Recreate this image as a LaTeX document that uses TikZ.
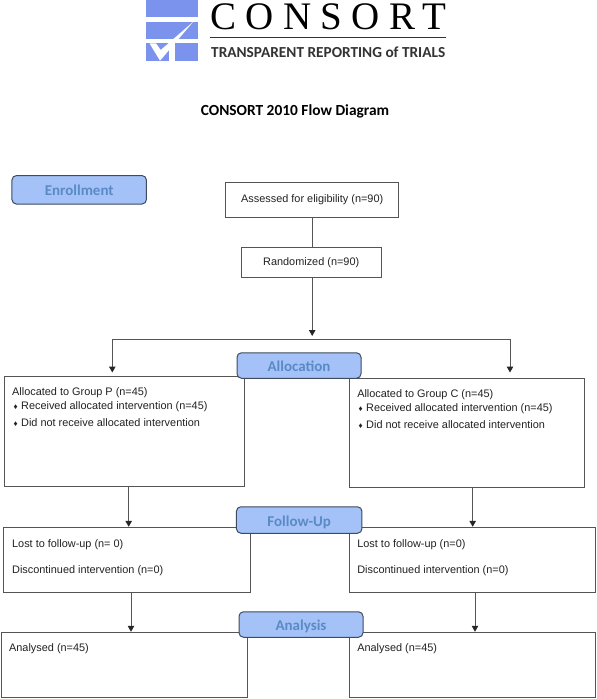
\documentclass[tikz,border=0pt]{standalone}
\usepackage{fontspec}
\setmainfont{Liberation Sans}
\newfontfamily\logofont[LetterSpace=24]{Liberation Serif}
\newfontfamily\headfont{Carlito}
\usepackage{xcolor}
\usetikzlibrary{arrows.meta,positioning}
\definecolor{logoblue}{HTML}{7C93EE}
\definecolor{stagefill}{HTML}{A4C2F8}
\definecolor{stagetext}{HTML}{5A8AC6}
\definecolor{stageline}{HTML}{3E4A5E}
\definecolor{boxline}{HTML}{555555}
\definecolor{bodytext}{HTML}{222222}
\newcommand{\itemmark}{\hspace*{1.3pt}{\fontsize{8}{8}\selectfont ♦}\hspace{3.6pt}}
\tikzset{
  flowbox/.style={draw=boxline, line width=1pt, fill=white, inner sep=0pt, text=bodytext, font=\fontsize{10.9}{12.5}\selectfont},
  boxtext/.style={anchor=north west, inner sep=0pt, align=left, text=bodytext, font=\fontsize{10.9}{12.5}\selectfont},
  stage/.style={draw=stageline, line width=1pt, fill=stagefill, rounded corners=4.5pt, inner sep=0pt, text depth=0pt, text height=12pt, text=stagetext, font=\headfont\bfseries\fontsize{15}{17}\selectfont},
  plainline/.style={draw=boxline, line width=1pt},
  flowarrow/.style={plainline, -{Triangle[length=6pt,width=6.5pt,color=black!85,fill=black!85]}, shorten >=0.5pt},
  logopart/.style={fill=logoblue, draw=none},
}
\begin{document}
\begin{tikzpicture}[x=1pt,y=-1pt]
  \useasboundingbox (0,0) rectangle (597,699);
  % logo
  \fill[logopart] (146,0) rectangle (198,17.3);
  \fill[logopart] (146,22) rectangle (198,39.3);
  \fill[logopart] (146,43.3) rectangle (169,61);
  \fill[logopart] (175,43.3) rectangle (198,61);
  \fill[white] (149.5,43.3) -- (156,43.3) -- (160.7,50) -- (193.3,21.7) -- (160,60.7) -- cycle;
  \node[anchor=west, inner sep=0pt] (logoname) at (210,16.5) {\logofont\fontsize{39}{39}\selectfont CONSORT};
  \node[anchor=west, inner sep=0pt, text=black!80, font=\headfont\bfseries\fontsize{15.3}{17}\selectfont] (logotag) at (211,52) {TRANSPARENT REPORTING of TRIALS};
  \coordinate (ruleleft) at (210,37.3);
  \coordinate (ruleright) at (446,37.3);
  \draw[black!80, line width=0.9pt] (ruleleft) -- (ruleright);
  \node[inner sep=0pt, font=\headfont\bfseries\fontsize{15.4}{17}\selectfont] (title) at (295,111.5) {CONSORT 2010 Flow Diagram};

  % boxes
  \node[flowbox, minimum width=173.5pt, minimum height=34.6pt] (assessed) at (312.2,200) {Assessed for eligibility (n=90)};
  \node[flowbox, minimum width=139.7pt, minimum height=30pt] (randomized) at (311.2,262.7) {Randomized (n=90)};
  \node[flowbox, minimum width=240pt, minimum height=110pt] (allocp) at (124,431) {};
  \node[flowbox, minimum width=234.5pt, minimum height=109pt] (allocc) at (466.8,432.5) {};
  \node[flowbox, minimum width=246.5pt, minimum height=65pt] (lostp) at (127.2,560.3) {};
  \node[flowbox, minimum width=246.3pt, minimum height=65pt] (lostc) at (472.8,560.3) {};
  \node[flowbox, minimum width=246.5pt, minimum height=64.5pt] (donep) at (124.7,665) {};
  \node[flowbox, minimum width=246.3pt, minimum height=64.5pt] (donec) at (472.8,665) {};

  % box texts
  \node[boxtext] (allocptext) at ([xshift=8.5pt,yshift=-12pt]allocp.north west) {Allocated to Group P (n=45)\\[1.5pt]\itemmark Received allocated intervention (n=45)\\[4.6pt]\itemmark Did not receive allocated intervention};
  \node[boxtext] (allocctext) at ([xshift=8pt,yshift=-12pt]allocc.north west) {Allocated to Group C (n=45)\\[1.5pt]\itemmark Received allocated intervention (n=45)\\[4.6pt]\itemmark Did not receive allocated intervention};
  \node[boxtext] (lostpone) at ([xshift=8.5pt,yshift=-12.5pt]lostp.north west) {Lost to follow-up (n= 0)};
  \node[boxtext] (lostptwo) at ([xshift=8.5pt,yshift=-38.5pt]lostp.north west) {Discontinued intervention (n=0)};
  \node[boxtext] (lostcone) at ([xshift=8pt,yshift=-12.5pt]lostc.north west) {Lost to follow-up (n=0)};
  \node[boxtext] (lostctwo) at ([xshift=8pt,yshift=-38.5pt]lostc.north west) {Discontinued intervention (n=0)};
  \node[boxtext] (doneptext) at ([xshift=8pt,yshift=-11.5pt]donep.north west) {Analysed (n=45)};
  \node[boxtext] (donectext) at ([xshift=8pt,yshift=-11.5pt]donec.north west) {Analysed (n=45)};

  % connectors
  \coordinate (branch) at (312.2,339);
  \coordinate (branchp) at (112.3,339);
  \coordinate (branchc) at (510,339);
  \draw[plainline] (assessed.south) -- ([xshift=1pt]randomized.north);
  \draw[flowarrow, shorten >=3pt] ([xshift=1pt]randomized.south) -- (branch);
  \draw[plainline] (branchp) -- (branchc);
  \draw[flowarrow, shorten >=3pt] (branchp) -- (branchp |- allocp.north);
  \draw[flowarrow, shorten >=5pt] (branchc) -- (branchc |- allocc.north);
  \draw[flowarrow] ([xshift=4.7pt]allocp.south) -- ([xshift=1.5pt]lostp.north);
  \draw[flowarrow] ([xshift=5.9pt]allocc.south) -- ([xshift=-0.1pt]lostc.north);
  \draw[flowarrow] ([xshift=3.8pt]lostp.south) -- ([xshift=6.3pt]donep.north);
  \draw[flowarrow] ([xshift=2.2pt]lostc.south) -- ([xshift=2.2pt]donec.north);

  % stage labels
  \node[stage, minimum width=134.5pt, minimum height=28.5pt] (enrollment) at (79.2,189.8) {Enrollment};
  \node[stage, minimum width=124pt, minimum height=25.5pt] (allocation) at (299,365.5) {Allocation};
  \node[stage, minimum width=125.5pt, minimum height=26.5pt] (followup) at (299.2,520) {Follow-Up};
  \node[stage, minimum width=124pt, minimum height=25.5pt] (analysis) at (301,624.5) {Analysis};
\end{tikzpicture}
\end{document}
